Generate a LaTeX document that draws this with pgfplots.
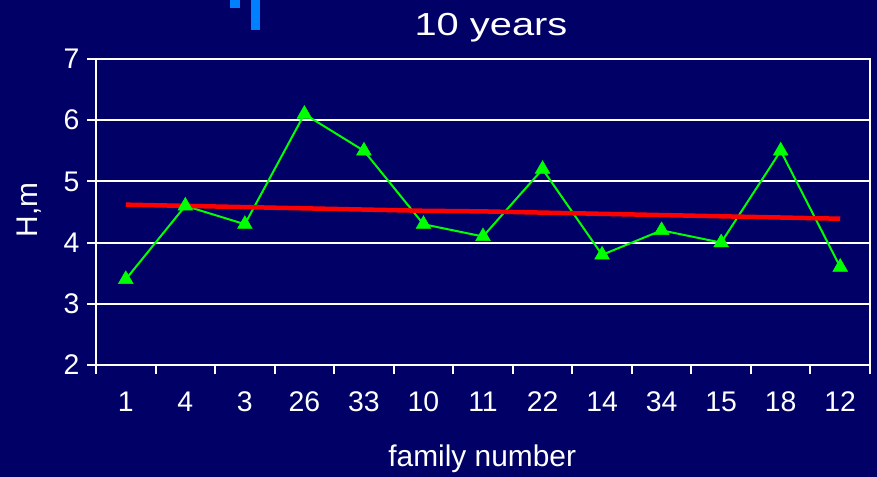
\documentclass[border=0pt]{standalone}
\usepackage{pgfplots}
\pgfplotsset{compat=1.18}
\usepackage{fontspec}
\setmainfont{Liberation Sans}

\definecolor{slidebg}{RGB}{0,0,102}
\definecolor{accent}{RGB}{0,128,255}
\definecolor{heightline}{RGB}{0,255,0}
\definecolor{trendline}{RGB}{255,0,0}

\begin{document}
\begin{tikzpicture}
  % slide background
  \fill[slidebg] (0bp,0bp) rectangle (877bp,477bp);
  \useasboundingbox (0bp,0bp) rectangle (877bp,477bp);
  % small accent bars at the top
  \fill[accent] (230bp,469bp) rectangle (240bp,477bp);
  \fill[accent] (251bp,447bp) rectangle (260bp,477bp);
  % title
  \node[text=white, font=\fontsize{32}{32}\selectfont, xscale=1.25] at (491bp,449bp) {10 years};

  \begin{axis}[
    at={(96bp,112bp)}, anchor=south west,
    scale only axis, width=774bp, height=306bp,
    xmin=-0.5, xmax=12.5, ymin=2, ymax=7,
    axis line style={white, line width=2bp},
    tick style={white, line width=2bp},
    tick align=outside,
    xtick pos=bottom, ytick pos=left,
    major tick length=9bp,
    xtick={-0.5,0.5,...,12.5},
    xticklabels={},
    extra x ticks={0,1,...,12},
    extra x tick labels={1,4,3,26,33,10,11,22,14,34,15,18,12},
    extra x tick style={tick style={draw=none}, grid=none},
    ytick={2,3,...,7},
    ymajorgrids,
    grid style={white, line width=2bp},
    ticklabel style={text=white, font=\fontsize{28.5}{28.5}\selectfont},
    /pgf/number format/assume math mode=true,
    xticklabel style={yshift=-14bp},
    yticklabel style={xshift=-4bp},
    xlabel={family number},
    ylabel={H,m},
    label style={text=white, font=\fontsize{30}{30}\selectfont},
    xlabel style={at={(axis description cs:0.499,-0.307)}, anchor=center},
    ylabel style={at={(axis description cs:-0.0866,0.507)}, anchor=center},
  ]
    % mean height per family
    \addplot[color=heightline, line width=2bp, mark=triangle*, mark size=8.5bp,
      mark options={fill=heightline, draw=heightline, line width=0.5bp}]
      coordinates {
        (0,3.4) (1,4.6) (2,4.3) (3,6.1) (4,5.5) (5,4.3) (6,4.1)
        (7,5.2) (8,3.8) (9,4.2) (10,4.0) (11,5.5) (12,3.6)
      };
    % linear trend
    \addplot[color=trendline, line width=4.5bp, mark=none]
      coordinates {
        (0,4.62) (1,4.60) (2,4.58) (3,4.56) (4,4.54) (5,4.52) (6,4.51)
        (7,4.49) (8,4.47) (9,4.45) (10,4.43) (11,4.41) (12,4.39)
      };
  \end{axis}
\end{tikzpicture}
\end{document}
